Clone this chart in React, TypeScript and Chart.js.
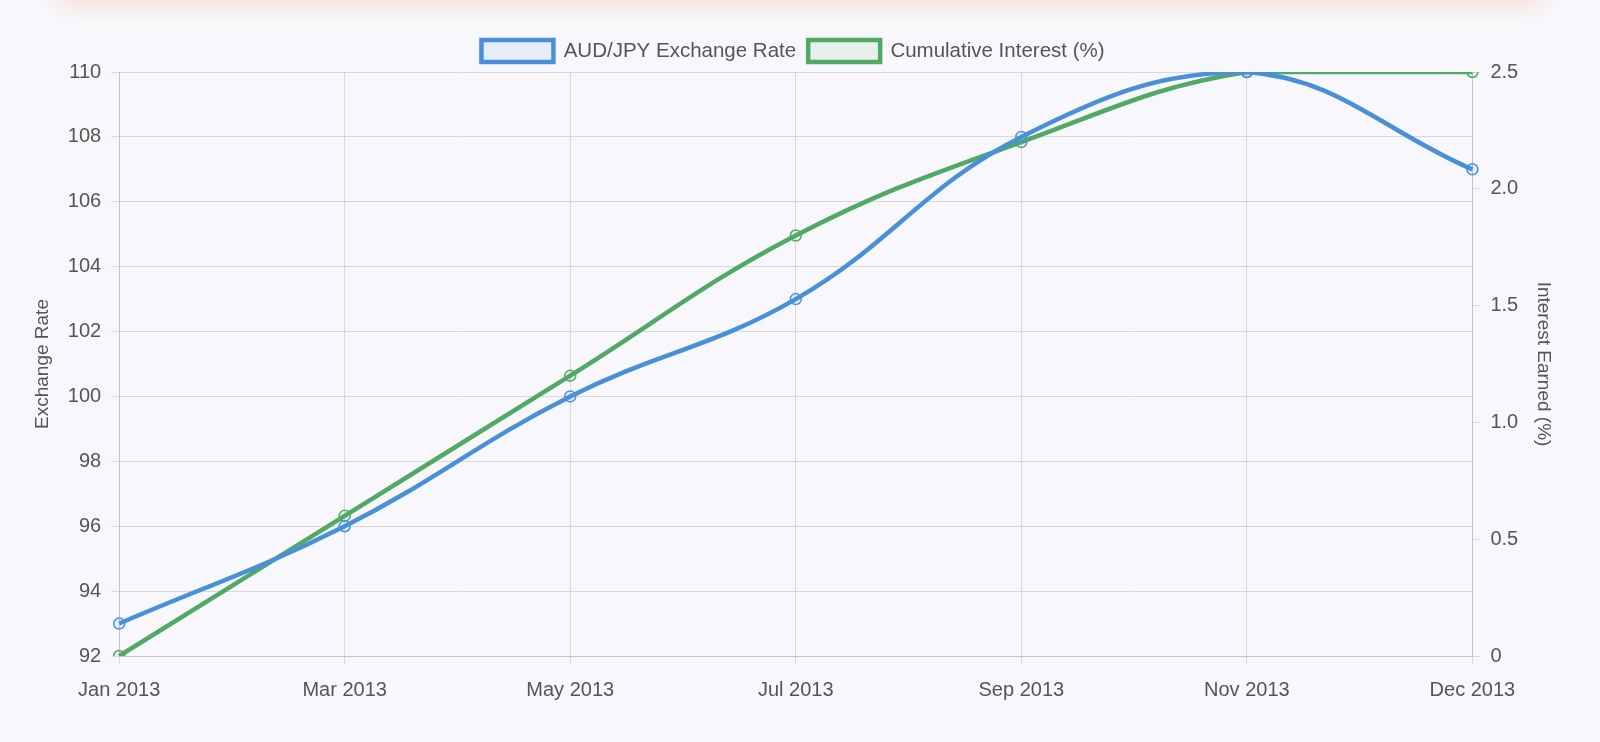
import { useEffect, useRef } from 'react'
import { Chart, registerables } from 'chart.js'

Chart.register(...registerables)

const MONTHS = ['Jan 2013', 'Mar 2013', 'May 2013', 'Jul 2013', 'Sep 2013', 'Nov 2013', 'Dec 2013']
const AUD_JPY = [93, 96, 100, 103, 108, 110, 107]
const INTEREST = [0, 0.6, 1.2, 1.8, 2.2, 2.5, 2.5]

const BLUE = '#4a90d9'
const GREEN = '#52a865'
const FONT = "'Helvetica Neue', Helvetica, Arial, 'Liberation Sans', sans-serif"

export default function App() {
  const ref = useRef<HTMLCanvasElement>(null)
  const chart = useRef<Chart | null>(null)

  useEffect(() => {
    if (!ref.current) return
    chart.current?.destroy()
    Chart.defaults.font.family = FONT
    Chart.defaults.font.size = 20
    Chart.defaults.color = '#555'

    chart.current = new Chart(ref.current, {
      type: 'line',
      data: {
        labels: MONTHS,
        datasets: [
          {
            label: 'AUD/JPY Exchange Rate',
            data: AUD_JPY,
            borderColor: BLUE,
            backgroundColor: 'rgba(74,144,217,0.1)',
            borderWidth: 4.5,
            pointRadius: 5.5,
            pointBorderWidth: 1.5,
            tension: 0.4,
            yAxisID: 'y',
          },
          {
            label: 'Cumulative Interest (%)',
            data: INTEREST,
            borderColor: GREEN,
            backgroundColor: 'rgba(82,168,101,0.1)',
            borderWidth: 4.5,
            pointRadius: 5.5,
            pointBorderWidth: 1.5,
            tension: 0.4,
            yAxisID: 'y1',
          },
        ],
      },
      options: {
        responsive: true,
        maintainAspectRatio: false,
        animation: false,
        plugins: {
          legend: {
            labels: { boxWidth: 72, boxHeight: 22, padding: 12, font: { size: 20.5 } },
          },
          tooltip: { enabled: false },
        },
        scales: {
          x: {
            grid: { color: 'rgba(0,0,0,0.12)' },
            ticks: { maxRotation: 0, padding: 14 },
          },
          y: {
            position: 'left',
            min: 92,
            max: 110,
            ticks: { stepSize: 2, padding: 10 },
            grid: { color: 'rgba(0,0,0,0.12)' },
            title: { display: true, text: 'Exchange Rate', font: { size: 19 } },
          },
          y1: {
            position: 'right',
            min: 0,
            max: 2.5,
            ticks: {
              stepSize: 0.5,
              padding: 10,
              callback: (v) => (Number(v) === 0 ? '0' : Number(v).toFixed(1)),
            },
            grid: { drawOnChartArea: false, color: 'rgba(0,0,0,0.12)' },
            title: { display: true, text: 'Interest Earned (%)', font: { size: 19 } },
          },
        },
      },
    })
    return () => chart.current?.destroy()
  }, [])

  return (
    <div style={{ position: 'fixed', inset: 0, background: '#f8f8fc', overflow: 'hidden' }}>
      <div
        style={{
          position: 'absolute',
          left: 60,
          right: 60,
          top: -40,
          height: 40,
          boxShadow: '0 6px 24px rgba(240,190,170,0.45)',
          background: '#f8f8fc',
        }}
      />
      <div style={{ position: 'absolute', left: 27, top: 28, width: 1532, height: 688 }}>
        <canvas ref={ref} role="img" aria-label="AUD/JPY exchange rate and cumulative interest" />
      </div>
    </div>
  )
}
